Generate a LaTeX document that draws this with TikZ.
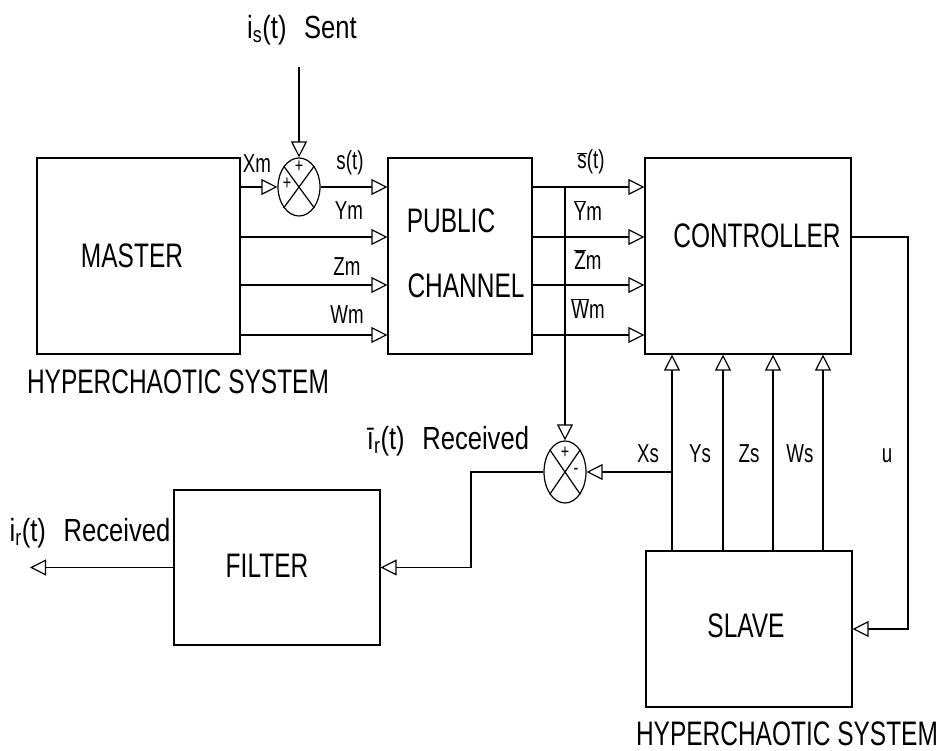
\documentclass[tikz,border=0pt]{standalone}
\usepackage{fontspec}
\setmainfont{Liberation Sans}[FakeStretch=0.72]
\newfontfamily\lowfont{Liberation Sans}[FakeStretch=0.8]
\usetikzlibrary{arrows.meta,shapes.geometric}
\begin{document}
\begin{tikzpicture}[x=1pt,y=-1pt,line width=1.2pt,
  sig/.style={-{Triangle[open,length=16pt,width=16pt]}},
  box/.style={draw,rectangle,inner sep=0pt},
  sumj/.style={draw,ellipse,inner sep=0pt,minimum width=42pt},
  big/.style={font=\fontsize{34}{38}\selectfont,inner sep=0pt},
  lab/.style={font=\fontsize{26}{30}\selectfont,inner sep=0pt},
  txt/.style={font=\lowfont\fontsize{32}{36}\selectfont,inner sep=0pt},
  sign/.style={font=\fontsize{20}{22}\selectfont,inner sep=0pt}]
\useasboundingbox (0,0) rectangle (946,751);

% level coordinates
\coordinate (y1) at (0,187);
\coordinate (ya) at (0,237);
\coordinate (yb) at (0,285);
\coordinate (yc) at (0,335);
\coordinate (c1) at (672,0);
\coordinate (c2) at (723,0);
\coordinate (c3) at (773,0);
\coordinate (c4) at (823,0);

% blocks
\node[box,minimum width=203pt,minimum height=196pt] (master) at (138.5,256) {};
\node[box,minimum width=144pt,minimum height=196pt] (pc) at (460,256) {};
\node[box,minimum width=206pt,minimum height=196pt] (ctrl) at (748,256) {};
\node[box,minimum width=206pt,minimum height=156pt] (slave) at (749,629) {};
\node[box,minimum width=206pt,minimum height=155pt] (filter) at (277,567.5) {};

% block texts
\node[big] (mastert) at (132,256) {MASTER};
\node[big] (pct1) at (451,221) {PUBLIC};
\node[big] (pct2) at (466,286) {CHANNEL};
\node[big] (ctrlt) at (757,236) {CONTROLLER};
\node[big] (slavet) at (746,626) {SLAVE};
\node[big] (filtert) at (267,566) {FILTER};
\node[big] (hyp1) at (178,382) {HYPERCHAOTIC SYSTEM};
\node[big] (hyp2) at (787,734) {HYPERCHAOTIC SYSTEM};

% summing junctions
\node[sumj,minimum height=58pt] (sj1) at (299,187) {};
\draw (sj1.north west) -- (sj1.south east) (sj1.north east) -- (sj1.south west);
\node[sign] (p1) at ([shift={(0,-20)}]sj1.center) {+};
\node[sign] (p2) at ([shift={(-12,-3)}]sj1.center) {+};

\node[sumj,minimum height=62pt] (sj2) at (565,472) {};
\draw (sj2.north west) -- (sj2.south east) (sj2.north east) -- (sj2.south west);
\node[sign] (p3) at ([shift={(0,-19)}]sj2.center) {+};
\node[sign] (m1) at ([shift={(11,-1)}]sj2.center) {-};

% free ends
\coordinate (insrc) at (299,67);
\coordinate (tap) at (565,187);
\coordinate (xsb) at (672,472);
\coordinate (bend) at (471,520);
\coordinate (outp) at (30,567.5);
\coordinate (uc) at (908,237);

% connectors
\draw[sig] (insrc) -- (sj1.north);
\draw[sig] (master.east |- sj1) -- (sj1.west);
\draw[sig] (sj1.east) -- (pc.west |- sj1);
\draw[sig] (master.east |- ya) -- (pc.west |- ya);
\draw[sig] (master.east |- yb) -- (pc.west |- yb);
\draw[sig] (master.east |- yc) -- (pc.west |- yc);

\draw[sig] (pc.east |- y1) -- (ctrl.west |- y1);
\draw[sig] (pc.east |- ya) -- (ctrl.west |- ya);
\draw[sig] (pc.east |- yb) -- (ctrl.west |- yb);
\draw[sig] (pc.east |- yc) -- (ctrl.west |- yc);

\draw[sig] (tap) -- (sj2.north);
\draw[sig] (xsb) -- (sj2.east);
\draw[sig] (sj2.west) -| (bend) |- (filter.east);
\draw[sig] (filter.west) -- (outp);

\draw[sig] (slave.north -| c1) -- (ctrl.south -| c1);
\draw[sig] (slave.north -| c2) -- (ctrl.south -| c2);
\draw[sig] (slave.north -| c3) -- (ctrl.south -| c3);
\draw[sig] (slave.north -| c4) -- (ctrl.south -| c4);

\draw[sig] (ctrl.east |- ya) -- (uc) |- (slave.east);

% signal labels
\node[lab] (lxm) at (257,164) {Xm};
\node[lab] (lst) at (350,163) {s(t)};
\node[lab] (lym) at (349,211) {Ym};
\node[lab] (lzm) at (347,267) {Zm};
\node[lab] (lwm) at (347,315) {Wm};

\node[lab] (lsb) at (591,162) {$\overline{\mbox{s}}$(t)};
\node[lab] (lyb) at (588,211) {$\overline{\mbox{Y}}$m};
\node[lab] (lzb) at (588,260) {$\overline{\mbox{Z}}$m};
\node[lab] (lwb) at (588,309) {$\overline{\mbox{W}}$m};

\node[lab] (lxs) at (648,454) {Xs};
\node[lab] (lys) at (700,454) {Ys};
\node[lab] (lzs) at (749,454) {Zs};
\node[lab] (lws) at (800,454) {Ws};
\node[lab] (lu) at (887,456) {u};

\node[txt] (sent) at (302,30) {i\textsubscript{s}(t)\hspace{0.55em}Sent};
\node[txt] (recv1) at (448,441) {ī\textsubscript{r}(t)\hspace{0.55em}Received};
\node[txt] (recv2) at (90,533) {i\textsubscript{r}(t)\hspace{0.55em}Received};
\end{tikzpicture}
\end{document}
